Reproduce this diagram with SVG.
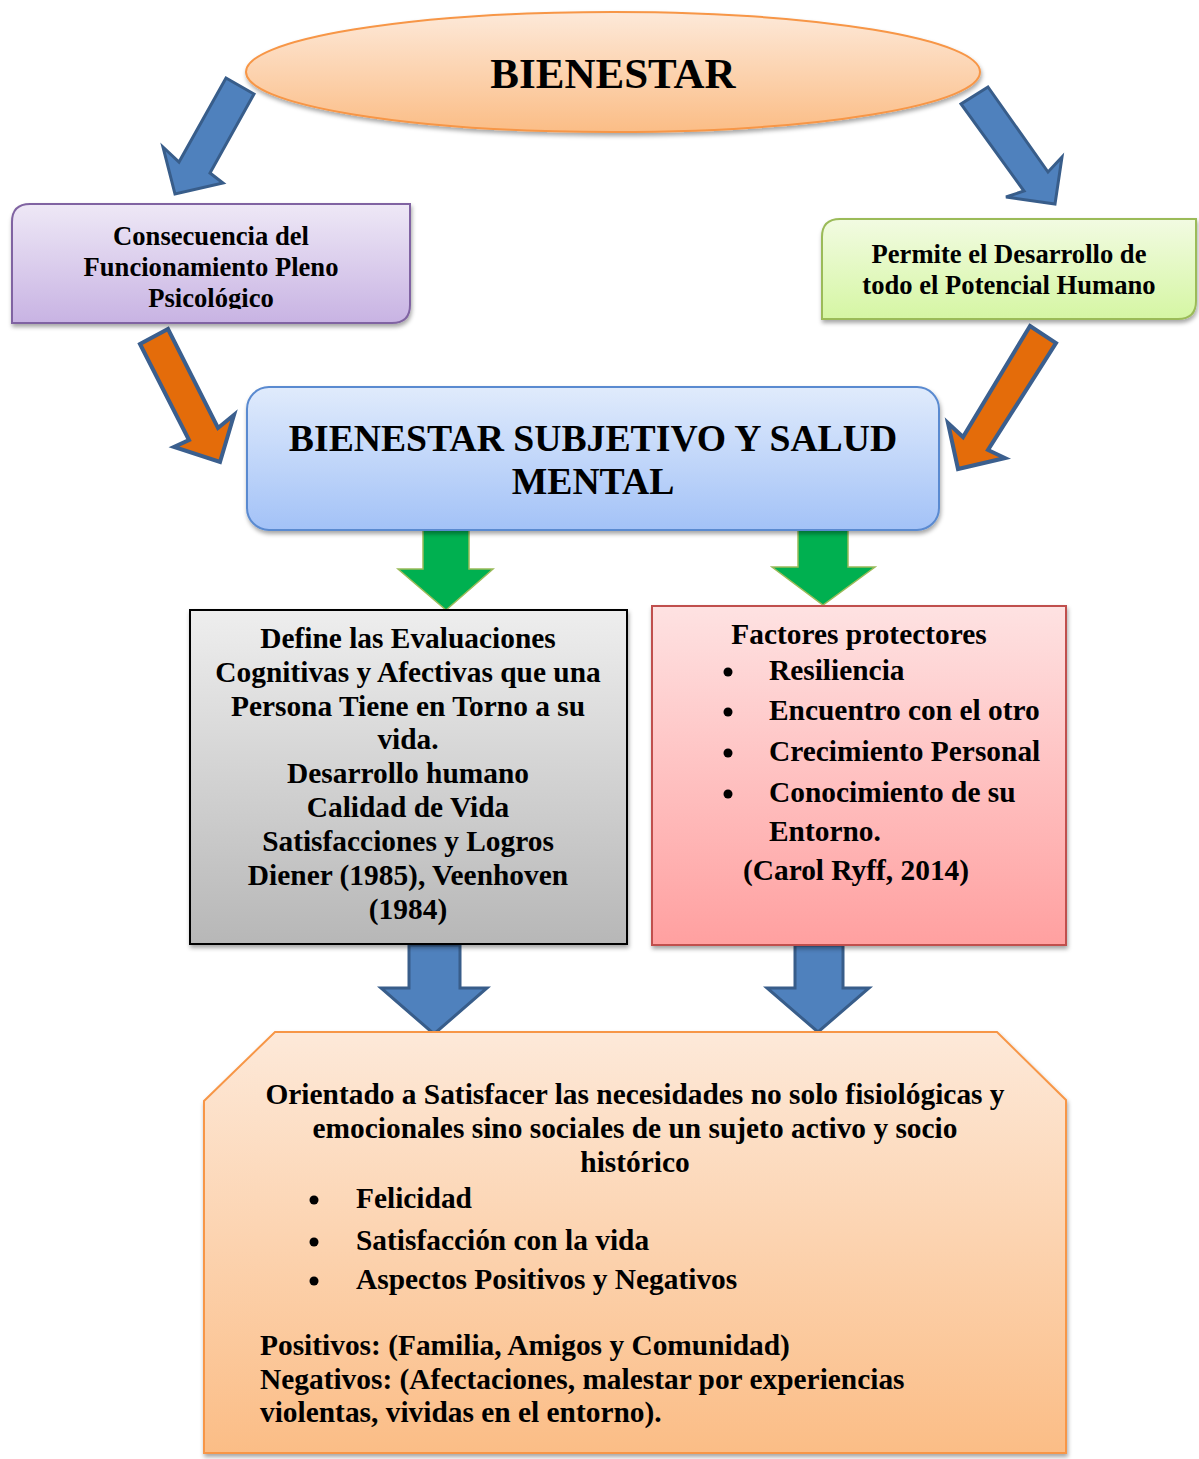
<svg xmlns="http://www.w3.org/2000/svg" width="1199" height="1459" viewBox="0 0 1199 1459">
<defs>
<linearGradient id="gOrange" x1="0" y1="0" x2="0" y2="1"><stop offset="0" stop-color="#fde9d9"/><stop offset="1" stop-color="#fbbd86"/></linearGradient>
<linearGradient id="gPurple" x1="0" y1="0" x2="0" y2="1"><stop offset="0" stop-color="#eee8f6"/><stop offset="1" stop-color="#c8b3e3"/></linearGradient>
<linearGradient id="gGreen" x1="0" y1="0" x2="0" y2="1"><stop offset="0" stop-color="#f2fbe2"/><stop offset="1" stop-color="#d5f6a3"/></linearGradient>
<linearGradient id="gBlue" x1="0" y1="0" x2="0" y2="1"><stop offset="0" stop-color="#e0ebfc"/><stop offset="1" stop-color="#a3c2f7"/></linearGradient>
<linearGradient id="gGray" x1="0" y1="0" x2="0" y2="1"><stop offset="0" stop-color="#eeeeee"/><stop offset="1" stop-color="#b7b7b7"/></linearGradient>
<linearGradient id="gPink" x1="0" y1="0" x2="0" y2="1"><stop offset="0" stop-color="#fee2e2"/><stop offset="1" stop-color="#ffa0a0"/></linearGradient>
<filter id="sh" x="-5%" y="-5%" width="110%" height="115%"><feDropShadow dx="1" dy="3" stdDeviation="2" flood-color="#000" flood-opacity="0.35"/></filter>
<clipPath id="clipPurple"><rect x="12" y="204" width="398" height="105"/></clipPath>
</defs>
<style>
text{font-family:"Liberation Serif","Times New Roman",serif;font-weight:bold;fill:#000}
.c{text-anchor:middle}
.t29{font-size:29.4px}
.t26{font-size:26.6px}
.blueArrow{fill:#4f81bd;stroke:#385d8a;stroke-width:3;stroke-linejoin:miter}
.orangeArrow{fill:#e46c0a;stroke:#3b5f8e;stroke-width:4;stroke-linejoin:miter}
.greenArrow{fill:#00b050;stroke:#9bbb59;stroke-width:1.5}
</style>

<g id="connectors">
<polygon class="blueArrow" points="226,78 254,94 210,173 223,183 175,194 163,147 179,162"/>
<polygon class="blueArrow" points="988,87 1048,172 1062,157 1055,204 1006,197 1024,191 961,104"/>
<polygon class="orangeArrow" points="140,344 168,329 218,428 234,415 220,462 174,447 189,440"/>
<polygon class="orangeArrow" points="1030,326 1056,343 988,450 1005,458 958,469 948,423 963,437"/>
<polygon class="greenArrow" points="423,530 469,530 469,569 493,569 446,610 398,569 423,569"/>
<polygon class="greenArrow" points="798,530 848,530 848,567 875,567 823,605 772,567 798,567"/>
<polygon class="blueArrow" points="409,945 460,945 460,988 487,988 434,1034 381,988 409,988"/>
<polygon class="blueArrow" points="795,945 843,945 843,988 869,988 818,1032 767,988 795,988"/>
</g>

<g id="bienestar">
<ellipse cx="613" cy="72" rx="367" ry="60" fill="url(#gOrange)" stroke="#f79646" stroke-width="2" filter="url(#sh)"/>
<text x="613" y="88" class="c" font-size="43">BIENESTAR</text>
</g>

<g id="consecuencia">
<path d="M30,204 H410 V305 Q410,323 392,323 H12 V222 Q12,204 30,204 Z" fill="url(#gPurple)" stroke="#8064a2" stroke-width="2" filter="url(#sh)"/>
<g clip-path="url(#clipPurple)">
<text x="211" y="245" class="c t26">Consecuencia del</text>
<text x="211" y="276" class="c t26">Funcionamiento Pleno</text>
<text x="211" y="307" class="c t26">Psicológico</text>
</g>
</g>

<g id="permite">
<path d="M840,219 H1196 V301 Q1196,319 1178,319 H822 V237 Q822,219 840,219 Z" fill="url(#gGreen)" stroke="#9bbb59" stroke-width="2" filter="url(#sh)"/>
<text x="1009" y="263" class="c t26">Permite el Desarrollo de</text>
<text x="1009" y="294" class="c t26">todo el Potencial Humano</text>
</g>

<g id="subjetivo">
<rect x="247" y="387" width="692" height="143" rx="22" ry="22" fill="url(#gBlue)" stroke="#5a8ad0" stroke-width="2" filter="url(#sh)"/>
<text x="593" y="451" class="c" font-size="37.7">BIENESTAR SUBJETIVO Y SALUD</text>
<text x="593" y="494" class="c" font-size="37.7">MENTAL</text>
</g>

<g id="define">
<rect x="190" y="610" width="437" height="334" fill="url(#gGray)" stroke="#000" stroke-width="2" filter="url(#sh)"/>
<g class="c t29">
<text x="408" y="648">Define las Evaluaciones</text>
<text x="408" y="682">Cognitivas y Afectivas que una</text>
<text x="408" y="716">Persona Tiene en Torno a su</text>
<text x="408" y="749">vida.</text>
<text x="408" y="783">Desarrollo humano</text>
<text x="408" y="817">Calidad de Vida</text>
<text x="408" y="851">Satisfacciones y Logros</text>
<text x="408" y="885">Diener (1985), Veenhoven</text>
<text x="408" y="919">(1984)</text>
</g>
</g>

<g id="factores">
<rect x="652" y="606" width="414" height="339" fill="url(#gPink)" stroke="#c0504d" stroke-width="2" filter="url(#sh)"/>
<g class="t29">
<text x="859" y="644" class="c">Factores protectores</text>
<text x="769" y="680">Resiliencia</text>
<text x="769" y="720">Encuentro con el otro</text>
<text x="769" y="761">Crecimiento Personal</text>
<text x="769" y="802">Conocimiento de su</text>
<text x="769" y="841">Entorno.</text>
<text x="856" y="880" class="c">(Carol Ryff, 2014)</text>
</g>
<g fill="#000">
<circle cx="728" cy="672" r="4.5"/>
<circle cx="728" cy="712" r="4.5"/>
<circle cx="728" cy="753" r="4.5"/>
<circle cx="728" cy="794" r="4.5"/>
</g>
</g>

<g id="orientado">
<path d="M275,1032 H997 L1066,1100 V1453 H204 V1101 Z" fill="url(#gOrange)" stroke="#f79646" stroke-width="2" filter="url(#sh)"/>
<g class="t29">
<text x="635" y="1104" class="c">Orientado a Satisfacer las necesidades no solo fisiológicas y</text>
<text x="635" y="1138" class="c">emocionales sino sociales de un sujeto activo y socio</text>
<text x="635" y="1172" class="c">histórico</text>
<text x="356" y="1208">Felicidad</text>
<text x="356" y="1250">Satisfacción con la vida</text>
<text x="356" y="1289">Aspectos Positivos y Negativos</text>
<text x="260" y="1355">Positivos: (Familia, Amigos y Comunidad)</text>
<text x="260" y="1389">Negativos: (Afectaciones, malestar por experiencias</text>
<text x="260" y="1422">violentas, vividas en el entorno).</text>
</g>
<g fill="#000">
<circle cx="314" cy="1200" r="4.5"/>
<circle cx="314" cy="1242" r="4.5"/>
<circle cx="314" cy="1281" r="4.5"/>
</g>
</g>
</svg>
